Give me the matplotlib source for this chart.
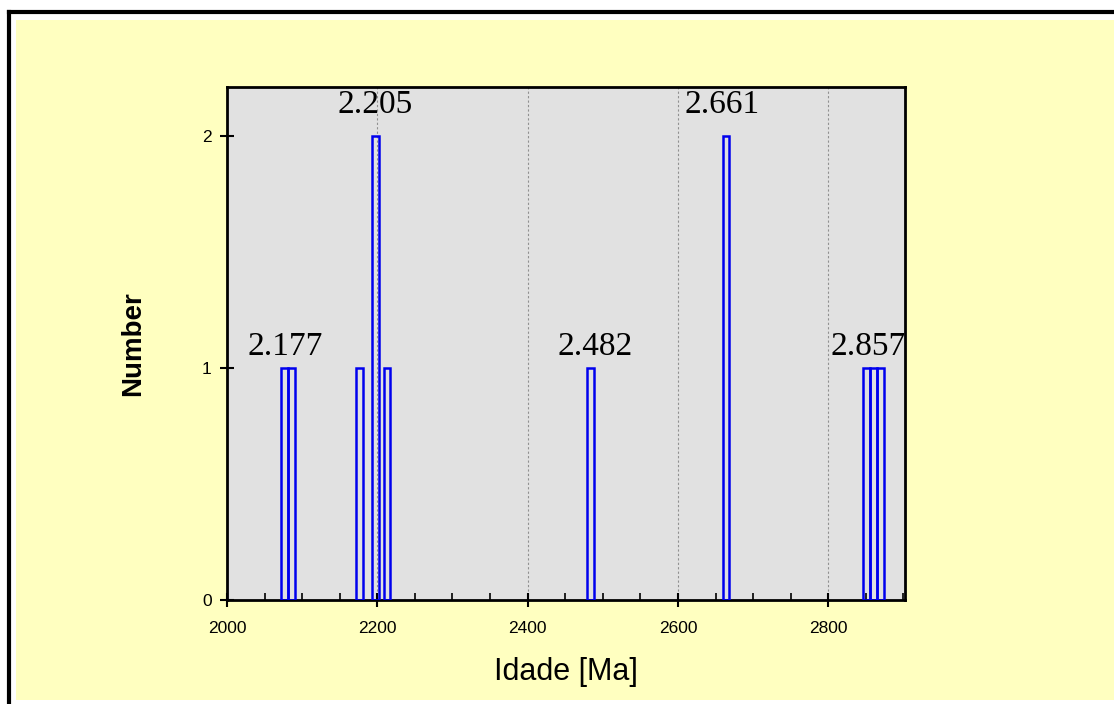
import matplotlib
matplotlib.use("Agg")
import matplotlib.pyplot as plt
from matplotlib import font_manager as fm
from matplotlib.patches import Rectangle
from matplotlib.lines import Line2D
from matplotlib.ticker import MultipleLocator

# histogram bins (centres, Ma) and counts
bin_centres = [2077, 2086, 2176, 2198, 2213, 2484, 2664, 2851, 2860, 2869]
counts = [1, 1, 1, 2, 1, 1, 2, 1, 1, 1]
bin_width = 9

# peak labels and where they sit
peak_labels = ["2.177", "2.205", "2.482", "2.661", "2.857"]
peak_x = [2077, 2197, 2490, 2659, 2853]
peak_y = [1.055, 2.10, 1.055, 2.10, 1.055]

yellow = "#FFFFC0"
panel = "#E1E1E1"


def sans_file(bold=False):
    # plain Liberation Sans, not the Narrow cut
    for f in fm.fontManager.ttflist:
        if f.name == "Liberation Sans" and "Narrow" not in f.fname:
            if (f.weight == "bold" or f.weight == 700) == bold and f.style == "normal":
                return f.fname
    return None


reg = sans_file(False)
bld = sans_file(True)
fp_reg = fm.FontProperties(fname=reg) if reg else fm.FontProperties(family="DejaVu Sans")
fp_bld = fm.FontProperties(fname=bld) if bld else fm.FontProperties(family="DejaVu Sans", weight="bold")

fig = plt.figure(figsize=(11.14, 7.04), dpi=100)
W, H = 1114, 704

# outer frame, kept behind the axes
fig.patches.append(Rectangle((16 / W, 1 - 700 / H), 1 - 16 / W, (700 - 20) / H,
                             transform=fig.transFigure, facecolor=yellow,
                             edgecolor="none", zorder=-5))
fig.lines.append(Line2D([9 / W, 1], [1 - 11.5 / H] * 2, transform=fig.transFigure,
                        color="black", lw=3, zorder=-5))
fig.lines.append(Line2D([9 / W] * 2, [0, 1 - 11.5 / H], transform=fig.transFigure,
                        color="black", lw=3, zorder=-5))

ax = fig.add_axes([227 / W, 1 - 600 / H, (905 - 227) / W, (600 - 87) / H])
ax.set_facecolor(panel)

ax.bar(bin_centres, counts, width=bin_width, facecolor="none",
       edgecolor="#0000EE", linewidth=1.8, zorder=3)

for lab, x, y in zip(peak_labels, peak_x, peak_y):
    ax.text(x, y, lab, ha="center", va="baseline", fontsize=24,
            family="Liberation Serif", zorder=4)

ax.set_xlim(2000, 2902)
ax.set_ylim(0, 2.21)
ax.set_xticks([2000, 2200, 2400, 2600, 2800])
ax.xaxis.set_minor_locator(MultipleLocator(50))
ax.set_yticks([0, 1, 2])
for x in [2200, 2400, 2600, 2800]:
    ax.axvline(x, color="#909090", lw=0.8, ls=(0, (2, 2)), zorder=1)

ax.tick_params(axis="both", which="major", direction="inout", length=10,
               width=1.5, pad=6)
ax.tick_params(axis="x", which="minor", direction="in", length=5, width=1.2)
ax.tick_params(axis="x", which="major", pad=10)
for lbl in ax.get_xticklabels() + ax.get_yticklabels():
    lbl.set_fontproperties(fp_reg)
    lbl.set_fontsize(12.5)
for s in ax.spines.values():
    s.set_linewidth(2)

ax.set_xlabel("Idade [Ma]", fontproperties=fp_reg, fontsize=22, labelpad=15)
ax.set_ylabel("Number", fontproperties=fp_bld, fontsize=20, labelpad=40)

fig.savefig("out.png", dpi=100, facecolor="white")
